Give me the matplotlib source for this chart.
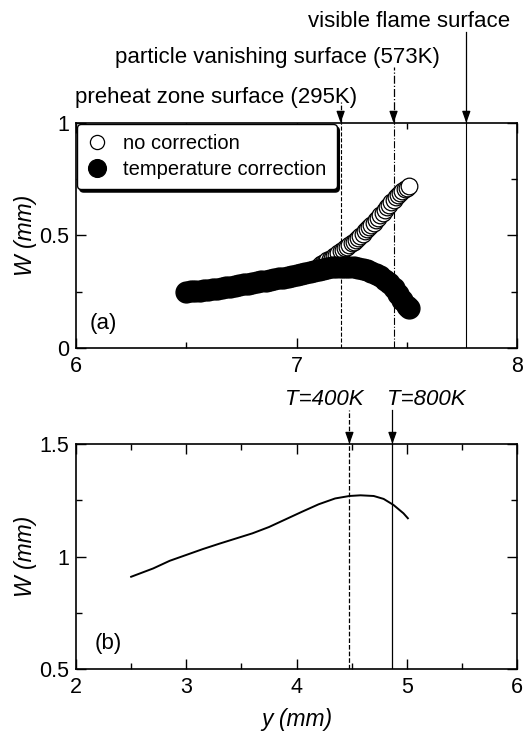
import numpy as np
import matplotlib.pyplot as plt
from matplotlib.ticker import MultipleLocator

plt.rcParams['font.family'] = ['Liberation Sans', 'DejaVu Sans']

# (a) no correction, visible part where it leaves the corrected band
y_nocorr = [7.10, 7.11, 7.12, 7.13, 7.14, 7.15, 7.16, 7.17, 7.18, 7.19,
            7.20, 7.21, 7.22, 7.23, 7.24, 7.25, 7.26, 7.27, 7.28, 7.29,
            7.30, 7.31, 7.32, 7.33, 7.34, 7.35, 7.36, 7.37, 7.38, 7.39,
            7.40, 7.41, 7.42, 7.43, 7.44, 7.45, 7.46, 7.47, 7.48, 7.49,
            7.50, 7.51]
w_nocorr = [0.365, 0.371, 0.377, 0.383, 0.389, 0.395, 0.401, 0.408, 0.415, 0.422,
            0.429, 0.436, 0.443, 0.450, 0.457, 0.465, 0.473, 0.481, 0.490, 0.499,
            0.508, 0.518, 0.527, 0.537, 0.547, 0.557, 0.568, 0.579, 0.590, 0.602,
            0.614, 0.626, 0.637, 0.648, 0.659, 0.669, 0.679, 0.688, 0.697, 0.705,
            0.713, 0.720]

# (a) temperature correction
y_corr = [6.50, 6.52, 6.54, 6.56, 6.58, 6.60, 6.62, 6.64, 6.66, 6.68,
          6.70, 6.72, 6.74, 6.76, 6.78, 6.80, 6.82, 6.84, 6.86, 6.88,
          6.90, 6.92, 6.94, 6.96, 6.98, 7.00, 7.02, 7.04, 7.06, 7.08,
          7.10, 7.12, 7.14, 7.16, 7.18, 7.20, 7.22, 7.24, 7.26, 7.28,
          7.30, 7.32, 7.34, 7.36, 7.38, 7.40, 7.42, 7.44, 7.46, 7.48,
          7.50, 7.51]
w_corr = [0.250, 0.252, 0.254, 0.255, 0.257, 0.259, 0.261, 0.264, 0.267, 0.270,
          0.273, 0.276, 0.279, 0.283, 0.286, 0.290, 0.293, 0.296, 0.299, 0.302,
          0.305, 0.309, 0.312, 0.316, 0.320, 0.324, 0.328, 0.332, 0.337, 0.342,
          0.347, 0.352, 0.356, 0.359, 0.361, 0.362, 0.362, 0.361, 0.359, 0.356,
          0.352, 0.346, 0.338, 0.328, 0.318, 0.304, 0.287, 0.267, 0.240, 0.212,
          0.188, 0.176]

# (b)
y_b = [2.50, 2.70, 2.85, 3.00, 3.15, 3.30, 3.45, 3.60, 3.75, 3.90,
       4.05, 4.20, 4.35, 4.48, 4.58, 4.70, 4.79, 4.88, 4.97, 5.01]
w_b = [0.910, 0.947, 0.981, 1.007, 1.033, 1.057, 1.080, 1.103, 1.131, 1.165,
       1.199, 1.232, 1.258, 1.269, 1.272, 1.269, 1.256, 1.229, 1.192, 1.170]

surf_a = [7.20, 7.44, 7.77]
surf_a_labels = ['preheat zone surface (295K)',
                 'particle vanishing surface (573K)',
                 'visible flame surface']
surf_b = [4.48, 4.87]
surf_b_labels = ['T=400K', 'T=800K']


def style_axes(ax):
    ax.tick_params(which='both', direction='in', top=True, right=True,
                   labelsize=15.5, width=1.0)
    ax.tick_params(which='major', length=7)
    ax.tick_params(which='minor', length=4)
    ax.tick_params(axis='x', pad=6)
    ax.tick_params(axis='y', pad=5)
    ax.xaxis.set_major_locator(MultipleLocator(1))
    ax.xaxis.set_minor_locator(MultipleLocator(0.5))
    ax.yaxis.set_major_locator(MultipleLocator(0.5))
    ax.yaxis.set_minor_locator(MultipleLocator(0.25))
    ax.yaxis.set_major_formatter(plt.FuncFormatter(lambda v, p: '%g' % v))
    for s in ax.spines.values():
        s.set_linewidth(1.2)


def arrow(ax, x, y0, y1, ls):
    lo, hi = ax.get_ylim()
    ax.plot([x, x], [y0, y1], color='k', lw=0.9, ls=ls, clip_on=False)
    ax.annotate('', xy=(x, y0), xytext=(x, y0 + 0.045 * (hi - lo)),
                arrowprops=dict(arrowstyle='-|>,head_length=0.7,head_width=0.25',
                                color='k', lw=0.9, shrinkA=0, shrinkB=0))


fig = plt.figure(figsize=(5.25, 7.31), dpi=100)
ax1 = fig.add_axes([0.1448, 0.524, 0.84, 0.3078])
ax2 = fig.add_axes([0.1448, 0.0848, 0.84, 0.3078])

# top panel
ax1.plot(y_nocorr, w_nocorr, 'o', ms=12, mfc='white', mec='k', mew=0.9,
         ls='none', label='no correction', zorder=3)
ax1.plot(y_corr, w_corr, 'o', ms=15, mfc='k', mec='k', ls='none',
         label='temperature correction', zorder=4)
ax1.set_xlim(6, 8)
ax1.set_ylim(0, 1)
style_axes(ax1)
ax1.set_ylabel('W (mm)', fontsize=16.5, fontstyle='italic', va='center')
ax1.yaxis.set_label_coords(-0.115, 0.5)

styles_a = ['--', '-.', '-']
tops_a = [1.093, 1.249, 1.404]
text_xa = [6.635, 6.914, 7.51]
text_ya = [1.115, 1.289, 1.453]
for x, ls, top in zip(surf_a, styles_a, tops_a):
    ax1.plot([x, x], [0, 1], color='k', lw=0.8, ls=ls, zorder=1)
    arrow(ax1, x, 1.0, top, ls)
for lab, tx, ty in zip(surf_a_labels, text_xa, text_ya):
    ax1.text(tx, ty, lab, fontsize=16, ha='center', va='center', clip_on=False)

ax1.text(6.06, 0.11, '(a)', fontsize=16, ha='left', va='center')
leg = ax1.legend(loc='upper left', bbox_to_anchor=(0.002, 0.995), borderaxespad=0,
                 fontsize=14.5, handlelength=1.0, handletextpad=0.8,
                 borderpad=0.5, labelspacing=0.35, markerscale=0.85,
                 fancybox=True, shadow={'color': 'black', 'alpha': 1.0},
                 framealpha=1, edgecolor='k')
leg.get_frame().set_linewidth(1.0)
leg.set_zorder(5)

# bottom panel
ax2.plot(y_b, w_b, color='k', lw=1.4)
ax2.set_xlim(2, 6)
ax2.set_ylim(0.5, 1.5)
style_axes(ax2)
ax2.set_ylabel('W (mm)', fontsize=16.5, fontstyle='italic', va='center')
ax2.yaxis.set_label_coords(-0.115, 0.5)
ax2.set_xlabel('y (mm)', fontsize=16.5, fontstyle='italic', va='center')
ax2.xaxis.set_label_coords(0.5, -0.225)

styles_b = ['--', '-']
text_xb = [4.254, 5.175]
for x, ls in zip(surf_b, styles_b):
    ax2.plot([x, x], [0.5, 1.5], color='k', lw=0.9, ls=ls)
    arrow(ax2, x, 1.5, 1.651, ls)
for lab, tx in zip(surf_b_labels, text_xb):
    ax2.text(tx, 1.696, lab, fontsize=16, fontstyle='italic',
             ha='center', va='center', clip_on=False)
ax2.text(2.17, 0.613, '(b)', fontsize=16, ha='left', va='center')

fig.savefig('out.png', dpi=100)
